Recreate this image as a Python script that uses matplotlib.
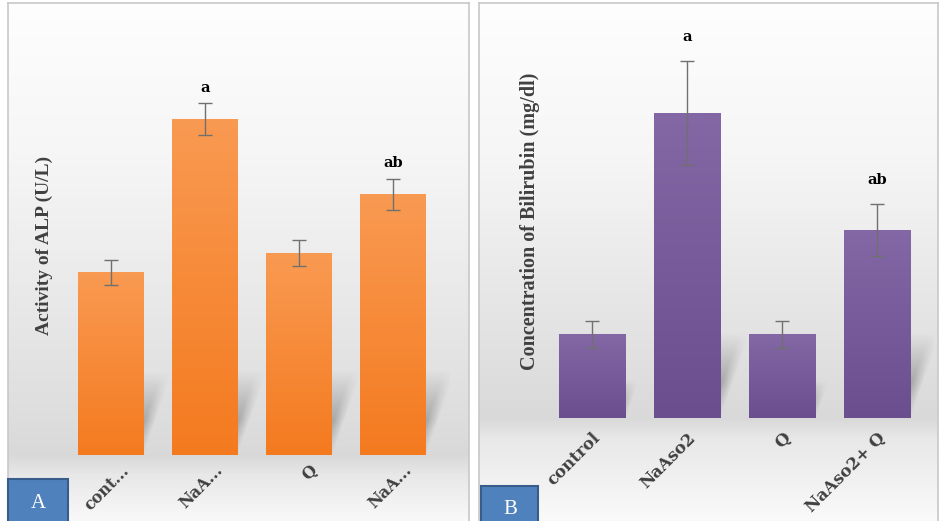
import numpy as np
import matplotlib
matplotlib.use("Agg")
import matplotlib.pyplot as plt
import matplotlib.transforms as mtrans
from matplotlib.patches import Polygon, Rectangle
from matplotlib.colors import LinearSegmentedColormap

# ---- data (bar heights, arbitrary units) ----
groups_a = ["cont...", "NaA...", "Q", "NaA..."]
alp_mean = [183, 336, 202, 261]
alp_err = [12.5, 16, 13, 15.5]
alp_sig = ["", "a", "", "ab"]

groups_b = ["control", "NaAso2", "Q", "NaAso2+ Q"]
bil_mean = [84, 305, 84, 188]
bil_err = [13.5, 52, 13.5, 26]
bil_sig = ["", "a", "", "ab"]

W, H = 941, 521


def px_rect(x0, y0, x1, y1):
    # pixel box (origin top-left) -> figure fraction rect
    return [x0 / W, 1 - y1 / H, (x1 - x0) / W, (y1 - y0) / H]


def panel_background(fig, x0, y0, x1, y1, base_px):
    ax = fig.add_axes(px_rect(x0, y0, x1, y1), zorder=0)
    ys = np.arange(y0, y1)
    val = np.interp(ys, [y0, y0 + 150, base_px - 40, base_px, base_px + 20, y1],
                    [0.995, 0.965, 0.87, 0.85, 0.91, 0.985])
    img = np.repeat(val[:, None], 3, axis=1)[:, None, :]
    ax.imshow(img, extent=[0, 1, 0, 1], aspect="auto")
    ax.set_xticks([])
    ax.set_yticks([])
    for s in ax.spines.values():
        s.set_color("#c8c8c8")
        s.set_linewidth(1.2)
    return ax


def draw_bars(ax, groups, mean, err, sig, c_top, c_bot, ytop, sig_off, lab_dx, lab_pad, lab_fs):
    x = np.arange(len(groups))
    width = 0.7
    ax.patch.set_alpha(0)
    bars = ax.bar(x, mean, width=width, color=c_bot, edgecolor="none", zorder=2)

    # soft diagonal floor shadows behind each bar
    for xi, h in zip(x, mean):
        hs = min(0.45 * h, 85)
        dx = 0.35 * hs / 94
        xl, xr = xi - width / 2 + 0.05, xi + width / 2
        gx = np.linspace(xl, xr + dx, 80)
        gy = np.linspace(hs, 0, 80)
        X, Y = np.meshgrid(gx, gy)
        edge = xr + dx * Y / hs
        a = np.interp(Y / hs, [0, 0.4, 1], [0.35, 0.5, 0.0])
        a = a * np.clip((edge - X) / 0.12, 0, 1)
        img = np.zeros((80, 80, 4))
        img[..., :3] = 0.45
        img[..., 3] = a
        poly = Polygon([(xl, 0), (xr, 0), (xr + dx, hs), (xl + dx, hs)],
                       closed=True, facecolor="none", edgecolor="none")
        ax.add_patch(poly)
        im = ax.imshow(img, extent=[xl, xr + dx, 0, hs], aspect="auto", zorder=1)
        im.set_clip_path(poly)

    # vertical gradient on bars
    cmap = LinearSegmentedColormap.from_list("bar", [c_bot, c_top])
    grad = np.linspace(1, 0, 256)[:, None]
    for p in bars.patches:
        x0 = p.get_x()
        im = ax.imshow(grad, cmap=cmap, extent=[x0, x0 + p.get_width(), 0, p.get_height()],
                       aspect="auto", zorder=2.5)
        im.set_clip_path(p)

    ax.errorbar(x, mean, yerr=err, fmt="none", ecolor="#707070", elinewidth=1,
                capsize=5, capthick=1, zorder=4)
    for xi, m, e, s in zip(x, mean, err, sig):
        if s:
            ax.annotate(s, (xi, m + e), xytext=(0, sig_off), textcoords="offset points",
                        ha="center", va="bottom", fontsize=10.5, fontweight="bold",
                        family="DejaVu Serif", color="black")

    ax.set_xlim(-0.6, 3.6)
    ax.set_ylim(0, ytop)
    ax.set_yticks([])
    ax.set_xticks(x)
    ax.set_xticklabels(groups, rotation=45, ha="right", va="top", rotation_mode="anchor",
                       fontsize=lab_fs, fontweight="bold", family="DejaVu Serif",
                       color="#404040")
    ax.tick_params(axis="x", length=0, pad=lab_pad)
    off = mtrans.ScaledTranslation(lab_dx / 100, 0, ax.figure.dpi_scale_trans)
    for lab in ax.get_xticklabels():
        lab.set_transform(lab.get_transform() + off)
    for s in ax.spines.values():
        s.set_visible(False)


fig = plt.figure(figsize=(W / 100, H / 100), dpi=100)
fig.patch.set_facecolor("white")

# panel A
panel_background(fig, 8, 3, 469, 526, 455)
ax_a = fig.add_axes(px_rect(54, 30, 449.5, 455), zorder=1)
draw_bars(ax_a, groups_a, alp_mean, alp_err, alp_sig, "#f99a52", "#f47a1f",
          425, 6, 10, 5, 11.5)
fig.text(44 / W, 1 - 245 / H, "Activity of ALP (U/L)", rotation=90, ha="center",
         va="center", fontsize=14, fontweight="bold", family="Liberation Serif",
         color="#404040")

# panel B
panel_background(fig, 479, 3, 938, 526, 418)
ax_b = fig.add_axes(px_rect(535, 20, 934, 418), zorder=1)
draw_bars(ax_b, groups_b, bil_mean, bil_err, bil_sig, "#8467a5", "#6a4e8e",
          398, 12, 0, 8.5, 12)
fig.text(530 / W, 1 - 221 / H, "Concentration of Bilirubin (mg/dl)", rotation=90,
         ha="center", va="center", fontsize=14.5, fontweight="bold",
         family="Liberation Serif", color="#404040")

# corner tags
for (x0, y0, x1), tag, (tx, ty) in [((8, 479, 68), "A", (38, 504)),
                                    ((481, 486, 538), "B", (510, 510))]:
    fig.patches.append(Rectangle((x0 / W, -0.01), (x1 - x0) / W, 1 - y0 / H + 0.01,
                                 transform=fig.transFigure, facecolor="#4f81bd",
                                 edgecolor="#385d8a", linewidth=1.5, zorder=5))
    fig.text(tx / W, 1 - ty / H, tag, ha="center", va="center", fontsize=15,
             family="Liberation Serif", color="white", zorder=6)

fig.savefig("out.png", dpi=100)
